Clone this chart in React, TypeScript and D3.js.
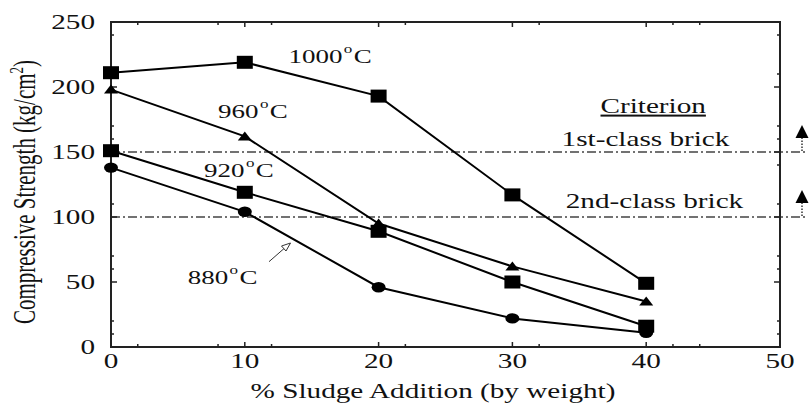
import React from "react";
import * as d3 from "d3";

const sludge = [0, 10, 20, 30, 40];
const s1000 = [211, 219, 193, 117, 49];
const s960 = [198, 162, 95, 62, 35];
const s920 = [151, 119, 89, 50, 16];
const s880 = [138, 104, 46, 22, 11];

const xMajorTicks = [0, 10, 20, 30, 40, 50];
const xMinorTicks = [2, 8, 12, 22, 32, 42, 44];
const yMajorTicks = [0, 50, 100, 150, 200, 250];
const yMinorTicks = [10, 20, 60, 70, 110, 140, 160, 170, 210, 240];

const criterionValues = [150, 100];
const criterionLabels = ["1st-class brick", "2nd-class brick"];

const FONT = "'Liberation Serif', 'Times New Roman', Times, serif";
const SX = 1.46;

const xs = d3.scaleLinear().domain([0, 50]).range([111, 780]);
const ys = d3.scaleLinear().domain([0, 250]).range([347, 22]);

function T({ x, y, anchor = "start", size = 20, sx = SX, children, decoration }: any) {
  return (
    <text
      transform={`translate(${x},${y}) scale(${sx},1)`}
      textAnchor={anchor}
      fontSize={size}
      fontFamily={FONT}
      fill="#111"
      textDecoration={decoration}
    >
      {children}
    </text>
  );
}

function TempLabel({ x, y, t }: any) {
  return (
    <T x={x} y={y} size={19} sx={1.42}>
      {t}
      <tspan fontSize={12} dy={-10} dx={1}>o</tspan>
      <tspan dy={10} dx={1}>C</tspan>
    </T>
  );
}

export default function App() {
  const line = d3
    .line<number>()
    .x((_, i) => xs(sludge[i]))
    .y((d) => ys(d));

  const series = [
    { v: s1000, m: "square" },
    { v: s960, m: "triangle" },
    { v: s920, m: "square" },
    { v: s880, m: "circle" },
  ];

  const marker = (m: string, cx: number, cy: number, k: string) => {
    if (m === "square") return <rect key={k} x={cx - 8} y={cy - 6.5} width={16} height={13} fill="#000" />;
    if (m === "circle") return <ellipse key={k} cx={cx} cy={cy} rx={7} ry={5.2} fill="#000" />;
    return <path key={k} d={`M${cx - 7},${cy + 4}L${cx + 7},${cy + 4}L${cx},${cy - 5}Z`} fill="#000" />;
  };

  const x0 = xs(0), x1 = xs(50), y0 = ys(0), y1 = ys(250);

  return (
    <svg width={810} height={406} style={{ position: "absolute", left: 0, top: 0, background: "#fff" }}>
      {/* criterion lines */}
      {criterionValues.map((v, i) => (
        <g key={"c" + i}>
          <line x1={x0} x2={806} y1={ys(v)} y2={ys(v)} stroke="#444" strokeWidth={1.6} strokeDasharray="9,3,2,3" />
          <line x1={802} x2={802} y1={ys(v) - 1} y2={ys(v) - 14} stroke="#333" strokeWidth={1.5} strokeDasharray="1.5,1.5" />
          <path d={`M${795.5},${ys(v) - 14}L${808.5},${ys(v) - 14}L${802},${ys(v) - 27}Z`} fill="#000" />
        </g>
      ))}

      {/* frame */}
      <rect x={x0} y={y1} width={x1 - x0} height={y0 - y1} fill="none" stroke="#222" strokeWidth={2} />

      {/* x ticks */}
      {xMajorTicks.map((t) => (
        <g key={"xm" + t}>
          <line x1={xs(t)} x2={xs(t)} y1={y0} y2={y0 - 5} stroke="#222" strokeWidth={1.5} />
          <line x1={xs(t)} x2={xs(t)} y1={y1} y2={y1 + 5} stroke="#222" strokeWidth={1.5} />
        </g>
      ))}
      {xMinorTicks.map((t) => (
        <g key={"xn" + t}>
          <line x1={xs(t)} x2={xs(t)} y1={y0} y2={y0 - 3} stroke="#222" strokeWidth={1.5} />
          <line x1={xs(t)} x2={xs(t)} y1={y1} y2={y1 + 3} stroke="#222" strokeWidth={1.5} />
        </g>
      ))}
      {/* y ticks */}
      {yMajorTicks.map((t) => (
        <g key={"ym" + t}>
          <line x1={x0} x2={x0 + 6} y1={ys(t)} y2={ys(t)} stroke="#222" strokeWidth={1.5} />
          <line x1={x1} x2={x1 - 6} y1={ys(t)} y2={ys(t)} stroke="#222" strokeWidth={1.5} />
        </g>
      ))}
      {yMinorTicks.map((t) => (
        <g key={"yn" + t}>
          <line x1={x0} x2={x0 + 3} y1={ys(t)} y2={ys(t)} stroke="#222" strokeWidth={1.5} />
          <line x1={x1} x2={x1 - 3} y1={ys(t)} y2={ys(t)} stroke="#222" strokeWidth={1.5} />
        </g>
      ))}

      {/* tick labels */}
      {xMajorTicks.map((t) => (
        <T key={"xl" + t} x={xs(t)} y={368} anchor="middle">{t}</T>
      ))}
      {yMajorTicks.map((t) => (
        <T key={"yl" + t} x={95} y={ys(t) + 7} anchor="end">{t}</T>
      ))}

      {/* axis titles */}
      <T x={433} y={398} anchor="middle">% Sludge Addition (by weight)</T>
      <text
        transform={`translate(35,192) scale(1.5,1) rotate(-90)`}
        textAnchor="middle"
        fontSize={21}
        fontFamily={FONT}
        fill="#111"
      >
        Compressive Strength (kg/cm<tspan fontSize={13} dy={-8}>2</tspan><tspan dy={8}>)</tspan>
      </text>

      {/* series */}
      {series.map((s, i) => (
        <path key={"l" + i} d={line(s.v) || ""} fill="none" stroke="#000" strokeWidth={2} />
      ))}
      {series.map((s, i) => s.v.map((v, j) => marker(s.m, xs(sludge[j]), ys(v), `m${i}-${j}`)))}

      {/* labels */}
      <TempLabel x={288.5} y={62.5} t="1000" />
      <TempLabel x={218} y={118.3} t="960" />
      <TempLabel x={204} y={176.7} t="920" />
      <TempLabel x={187.7} y={284} t="880" />

      {/* arrow for 880 */}
      <line x1={269} y1={261.7} x2={289} y2={244.2} stroke="#333" strokeWidth={1} />
      <path d="M290.5,243 L281.5,246 L286,251 Z" fill="#fff" stroke="#333" strokeWidth={1} />

      {/* criterion text */}
      <T x={600.5} y={113} size={20} decoration="underline">Criterion</T>
      <T x={561.6} y={146}>{criterionLabels[0]}</T>
      <T x={565.7} y={208}>{criterionLabels[1]}</T>
    </svg>
  );
}
